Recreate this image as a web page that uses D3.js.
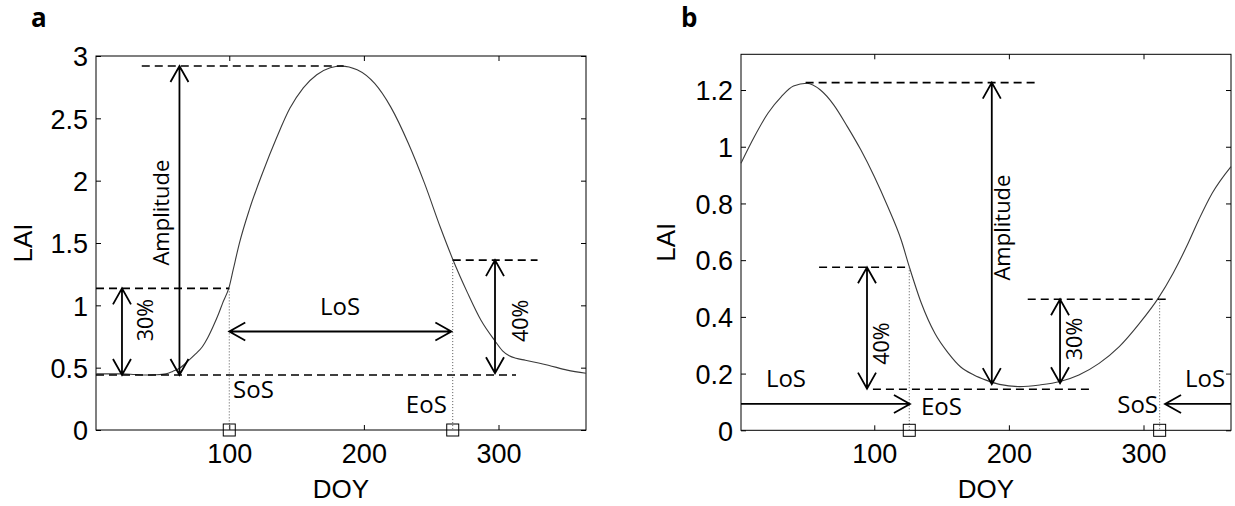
<!DOCTYPE html>
<html><head><meta charset="utf-8">
<script src="https://cdn.jsdelivr.net/npm/d3@7"></script>
<style>
body{margin:0;background:#fff;}
svg{display:block;}
.tick text{font-family:"Liberation Sans",Arial,sans-serif;font-size:27px;fill:#000;}
.ann{font-family:"Open Sans","Noto Sans",sans-serif;fill:#000;}
.lab{font-family:"Liberation Sans",Arial,sans-serif;font-size:26px;fill:#000;}
.panel{font-family:"Open Sans","Noto Sans",sans-serif;font-size:26px;font-weight:bold;fill:#000;}
</style></head>
<body><svg id="c" width="1235" height="506"></svg>
<script>
// ---------- data ----------
const doyA = [1,10,20,30,38,46,53,58,63,70,75,80,84,88,92,95,100,103,107.5,115,125,135,145,155,165,175,183,195,208,220,233,245,257,266,277,287,297,303,308,313,320,337,351,365];
const laiA = [0.45,0.45,0.45,0.445,0.441,0.443,0.45,0.47,0.495,0.56,0.61,0.668,0.74,0.83,0.93,1.016,1.15,1.29,1.497,1.77,2.07,2.34,2.58,2.745,2.85,2.905,2.92,2.89,2.78,2.59,2.30,1.98,1.62,1.37,1.10,0.88,0.72,0.635,0.595,0.575,0.56,0.52,0.48,0.455];
const doyB = [1,11,21,31,40,50,60,70,80,90,100,110,120,126,135,145,155,164,174,183,193,208,223,238,252,267,282,297,311,322,332,341,351,365];
const laiB = [0.942,1.036,1.118,1.177,1.214,1.224,1.20,1.147,1.071,0.989,0.895,0.789,0.671,0.577,0.448,0.342,0.272,0.224,0.195,0.177,0.162,0.154,0.160,0.172,0.195,0.236,0.295,0.377,0.466,0.554,0.648,0.742,0.836,0.93];
const xTicks = [100,200,300];
const yTicksA = [0,0.5,1,1.5,2,2.5,3];
const yLabelsA = ["0","0.5","1","1.5","2","2.5","3"];
const yTicksB = [0,0.2,0.4,0.6,0.8,1,1.2];
const yLabelsB = ["0","0.2","0.4","0.6","0.8","1","1.2"];

// annotations (data units)
// dashed horizontal lines: [doyStart, doyEnd, lai]
const dashA = [[35,185,2.92],[1,313,0.441],[1,100,1.136],[266,329,1.363]];
const dashB = [[49,219.5,1.226],[99,262,0.145],[59,126,0.575],[214,316.7,0.462]];
// vertical double arrows: [doy, laiTop, laiBottom]
const vArrA = [[63,2.92,0.441],[20.3,1.136,0.441],[297.4,1.363,0.455]];
const vArrB = [[187.3,1.226,0.163],[94.6,0.575,0.147],[238,0.462,0.166]];
// dotted phenology markers: [doy, lai]
const markA = [[100,1.136],[266,1.363]];
const markB = [[126,0.575],[312,0.462]];
// horizontal arrows: [doyFrom, doyTo, lai, headAtStart, headAtEnd]
const hArrA = [[100,265,0.79,true,true]];
const hArrB = [[1,126.5,0.093,false,true],[365,316,0.093,false,true]];
// texts: [label, doy, lai, anchor, rotated, size]
const textA = [["Amplitude",49.3,1.744,"middle",true,22],["30%",38.1,0.882,"middle",true,21.5],["40%",316,0.876,"middle",true,21.5],
  ["LoS",182.3,0.922,"middle",false,24],["SoS",102.8,0.257,"start",false,24],["EoS",261.6,0.136,"end",false,24]];
const textB = [["Amplitude",195.4,0.715,"middle",true,22],["40%",105,0.306,"middle",true,21.5],["30%",248.6,0.322,"middle",true,21.5],
  ["LoS",34.4,0.152,"middle",false,24],["EoS",134.7,0.054,"start",false,24],["SoS",310.8,0.061,"end",false,24],["LoS",360.6,0.154,"end",false,24]];

const svg = d3.select("#c");

function panel(cfg){
  const x = d3.scaleLinear().domain([1,365]).range([cfg.left,cfg.right]);
  const y = d3.scaleLinear().domain(cfg.ydom).range([cfg.bottom,cfg.top]);
  const g = svg.append("g");
  // axes
  const ax = g.append("g").attr("transform",`translate(0,${cfg.bottom})`)
    .call(d3.axisBottom(x).tickValues(xTicks).tickFormat(d3.format("d")).tickSizeInner(-5).tickSizeOuter(0).tickPadding(14));
  const axT = g.append("g").attr("transform",`translate(0,${cfg.top})`)
    .call(d3.axisTop(x).tickValues(xTicks).tickFormat("").tickSizeInner(-5).tickSizeOuter(0));
  const ay = g.append("g").attr("transform",`translate(${cfg.left},0)`)
    .call(d3.axisLeft(y).tickValues(cfg.yt).tickFormat((d,i)=>cfg.yl[i]).tickSizeInner(-5).tickSizeOuter(0).tickPadding(8));
  const ayR = g.append("g").attr("transform",`translate(${cfg.right},0)`)
    .call(d3.axisRight(y).tickValues(cfg.yt).tickFormat("").tickSizeInner(-5).tickSizeOuter(0));
  [ax,axT,ay,ayR].forEach(a=>{a.attr("font-family",null).attr("font-size",null);a.select(".domain").remove();a.selectAll("line").attr("stroke","#000");});
  ay.selectAll("text").attr("dy","0.36em");
  g.append("rect").attr("x",cfg.left).attr("y",cfg.top).attr("width",cfg.right-cfg.left).attr("height",cfg.bottom-cfg.top)
    .attr("fill","none").attr("stroke","#000").attr("stroke-width",1);

  // curve
  const line = d3.line().x((d,i)=>x(cfg.doy[i])).y((d,i)=>y(cfg.lai[i])).curve(d3.curveMonotoneX);
  g.append("path").datum(cfg.lai).attr("d",line).attr("fill","none").attr("stroke","#3a3a3a").attr("stroke-width",1.1);

  // dashed lines
  g.selectAll(".dash").data(cfg.dash).join("line")
    .attr("x1",d=>x(d[0])).attr("x2",d=>x(d[1])).attr("y1",d=>y(d[2])).attr("y2",d=>y(d[2]))
    .attr("stroke","#000").attr("stroke-width",1.6).attr("stroke-dasharray","8,5");
  // dotted markers
  g.selectAll(".dot").data(cfg.mark).join("line")
    .attr("x1",d=>x(d[0])).attr("x2",d=>x(d[0])).attr("y1",d=>y(d[1])).attr("y2",d=>y(0))
    .attr("stroke","#555").attr("stroke-width",1).attr("stroke-dasharray","1,2");
  g.selectAll(".sq").data(cfg.mark).join("rect")
    .attr("x",d=>x(d[0])-6).attr("y",y(0)-6).attr("width",12).attr("height",12)
    .attr("fill","none").attr("stroke","#000").attr("stroke-width",1);

  const HL=16, HW=9;
  function head(px,py,dx,dy){ // tip at px,py, pointing along (dx,dy)
    const nx=-dy, ny=dx;
    return `M${px-dx*HL+nx*HW},${py-dy*HL+ny*HW}L${px},${py}L${px-dx*HL-nx*HW},${py-dy*HL-ny*HW}`;
  }
  // vertical double arrows
  cfg.varr.forEach(d=>{
    const px=x(d[0]), y1=y(d[1]), y2=y(d[2]);
    g.append("path").attr("d",`M${px},${y1}L${px},${y2}`+head(px,y1,0,-1)+head(px,y2,0,1))
      .attr("fill","none").attr("stroke","#000").attr("stroke-width",1.8);
  });
  // horizontal arrows
  cfg.harr.forEach(d=>{
    const x1=x(d[0]), x2=x(d[1]), py=y(d[2]); const s=Math.sign(x2-x1);
    let p=`M${x1},${py}L${x2},${py}`;
    if(d[3]) p+=head(x1,py,-s,0);
    if(d[4]) p+=head(x2,py,s,0);
    g.append("path").attr("d",p).attr("fill","none").attr("stroke","#000").attr("stroke-width",1.8);
  });
  // texts
  cfg.text.forEach(d=>{
    const t=g.append("text").attr("class","ann").text(d[0]).attr("text-anchor",d[3]).attr("font-size",d[5]+"px");
    if(d[4]) t.attr("transform",`translate(${x(d[1])},${y(d[2])}) rotate(-90)`).attr("dy","0.35em");
    else t.attr("x",x(d[1])).attr("y",y(d[2]));
  });
  // axis labels
  g.append("text").attr("class","lab").attr("text-anchor","middle").attr("x",(cfg.left+cfg.right)/2).attr("y",498).text("DOY");
  g.append("text").attr("class","lab").attr("text-anchor","middle")
    .attr("transform",`translate(${cfg.ylabX},${(cfg.top+cfg.bottom)/2}) rotate(-90)`).text("LAI");
  g.append("text").attr("class","panel").attr("x",cfg.letterX).attr("y",27).text(cfg.letter);
}

panel({left:96,right:586,top:56,bottom:430,ydom:[0,3],yt:yTicksA,yl:yLabelsA,doy:doyA,lai:laiA,
  dash:dashA,varr:vArrA,mark:markA,harr:hArrA,text:textA,ylabX:32,letter:"a",letterX:31});
panel({left:741,right:1231,top:54.3,bottom:430.3,ydom:[0,1.326],yt:yTicksB,yl:yLabelsB,doy:doyB,lai:laiB,
  dash:dashB,varr:vArrB,mark:markB,harr:hArrB,text:textB,ylabX:675,letter:"b",letterX:681});
</script></body></html>
